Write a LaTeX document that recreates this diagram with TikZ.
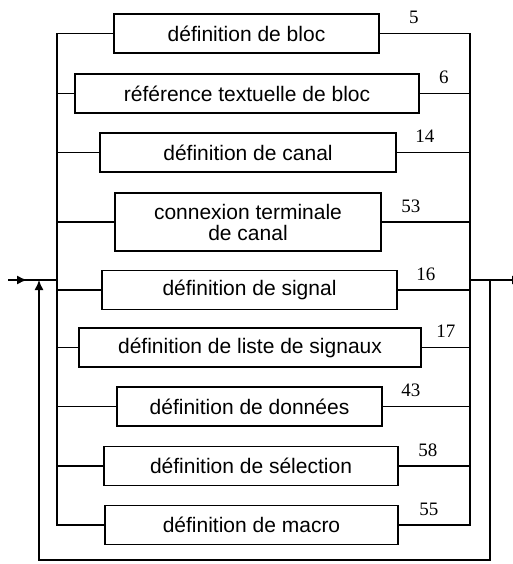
\documentclass[tikz,border=0pt]{standalone}
\usepackage{fontspec}
\setmainfont{Liberation Serif}
\setsansfont{Liberation Sans}
\usetikzlibrary{arrows.meta,positioning,calc}

\begin{document}
\begin{tikzpicture}[
    x=1pt, y=-1pt,
    line width=1.4pt,
    defbox/.style={rectangle, draw, line width=1.6pt, align=center, inner sep=0pt, minimum height=39pt, font=\fontsize{21}{21}\sffamily},
    num/.style={font=\fontsize{19}{20}\selectfont, inner sep=0pt},
    arrow/.style={-{Latex[length=10pt, width=9pt]}}
]
    \useasboundingbox (0,0) rectangle (512,564);

    \node [defbox, minimum width=265pt] (b1) at (246.5,33.5) {définition de bloc};
    \node [defbox, minimum width=344pt] (b2) at (247,93.5) {référence textuelle de bloc};
    \node [defbox, minimum width=296pt] (b3) at (248,152.5) {définition de canal};
    \node [defbox, minimum width=266pt, minimum height=58pt] (b4) at (248,222) {connexion terminale\\de canal};
    \node [defbox, minimum width=295pt] (b5) at (249.5,290) {définition de signal};
    \node [defbox, minimum width=342pt] (b6) at (250,347.5) {définition de liste de signaux};
    \node [defbox, minimum width=265pt] (b7) at (249.5,406.5) {définition de données};
    \node [defbox, minimum width=294pt] (b8) at (251,466) {définition de sélection};
    \node [defbox, minimum width=293pt] (b9) at (251.5,525) {définition de macro};

    % numbers
    \foreach \n/\t/\dx in {b1/5/34, b2/6/24, b3/14/28, b4/53/29, b5/16/28, b6/17/24, b7/43/28, b8/58/29, b9/55/30}
        \node [num] at ([shift={(\dx,-16)}]\n.east) {\t};

    % buses
    \coordinate (lbus) at (57,0);
    \coordinate (rbus) at (470,0);
    \draw (b1.west) -| (b9.west -| lbus) -- (b9.west);
    \draw (b1.east) -| (b9.east -| rbus) -- (b9.east);
    \foreach \n in {b2,b3,b4,b5,b6,b7,b8} {
        \draw (\n.west) -- (\n.west -| lbus);
        \draw (\n.east) -- (\n.east -| rbus);
    }

    % entry, exit and loop back
    \coordinate (in) at (8,280);
    \coordinate (out) at (522,280);
    \coordinate (ret) at (490,280);
    \coordinate (back) at (39,280);
    \draw (in) -- (in -| lbus);
    \draw [arrow] (in) -- ++(19,0);
    \draw [arrow] (out -| rbus) -- (out);
    \draw [arrow] (ret) -- ++(0,280) -| (back);
\end{tikzpicture}
\end{document}
